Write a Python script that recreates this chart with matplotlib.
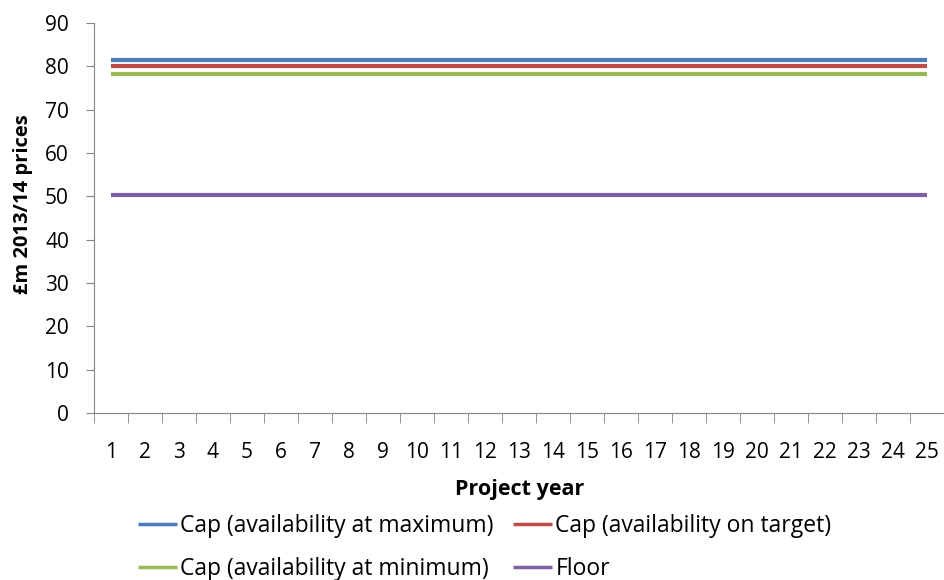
import matplotlib.pyplot as plt
import numpy as np

plt.rcParams['font.family'] = ['Open Sans', 'DejaVu Sans']

# project years 1..25
years = list(range(1, 26))
cap_max = [81.4] * 25
cap_target = [80.0] * 25
cap_min = [78.3] * 25
floor = [50.4] * 25

series = [
    ("Cap (availability at maximum)", cap_max, "#4a7ebb"),
    ("Cap (availability on target)", cap_target, "#be4b48"),
    ("Cap (availability at minimum)", cap_min, "#98b954"),
    ("Floor", floor, "#7d60a0"),
]

W, H = 945, 580
fig = plt.figure(figsize=(W / 100, H / 100), dpi=100)
ax = fig.add_axes([94 / W, (H - 413) / H, 850 / W, 390 / H])

lines = {}
for name, vals, col in series:
    lines[name], = ax.plot(years, vals, color=col, lw=3.0, label=name, solid_capstyle='butt')

ax.set_xlim(0.5, 25.5)
ax.set_ylim(0, 90)
ax.set_yticks(range(0, 91, 10))
ax.set_xticks(years)
ax.set_xticks(np.arange(0.5, 25.6, 1), minor=True)
ax.tick_params(axis='x', which='major', length=0, pad=21, labelsize=15)
ax.tick_params(axis='x', which='minor', length=7, color='#858585')
ax.tick_params(axis='y', length=6, color='#858585', labelsize=15, pad=12)
for s in ['top', 'right']:
    ax.spines[s].set_visible(False)
ax.spines['left'].set_color('#858585')
ax.spines['bottom'].set_color('#858585')

ax.set_xlabel("Project year", fontsize=15.5, fontweight='bold', va='center')
ax.xaxis.set_label_coords(0.501, -0.196)
ax.set_ylabel("£m 2013/14 prices", fontsize=14.5, fontweight='bold', va='center')
ax.yaxis.set_label_coords(-0.0835, 0.536)

# legend is filled row by row in the reference, matplotlib fills by column
order = ["Cap (availability at maximum)", "Cap (availability at minimum)",
         "Cap (availability on target)", "Floor"]
leg = fig.legend([lines[n] for n in order], order, loc='upper left',
                 bbox_to_anchor=(138 / W, (H - 514) / H), ncol=2, frameon=False,
                 fontsize=16.5, handlelength=1.7, handletextpad=0.13, columnspacing=0.87,
                 labelspacing=0.85, borderpad=0, borderaxespad=0)
for h in leg.get_lines():
    h.set_linewidth(2.5)

fig.savefig("out.png", dpi=100)
